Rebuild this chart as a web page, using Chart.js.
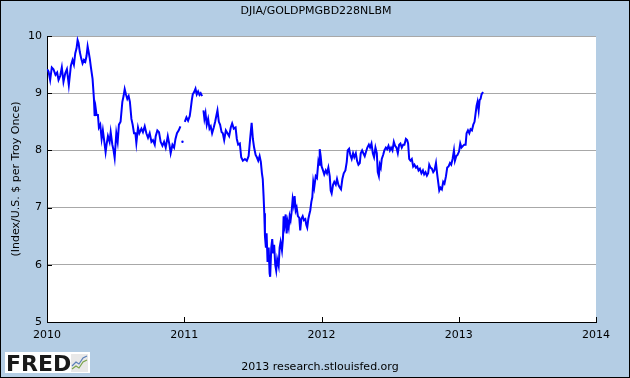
<!DOCTYPE html>
<html>
<head>
<meta charset="utf-8">
<script src="https://cdn.jsdelivr.net/npm/chart.js@4/dist/chart.umd.min.js"></script>
<style>
  html, body { margin: 0; padding: 0; background: #b4cde4; }
  #wrap { width: 630px; height: 378px; }
</style>
</head>
<body>
<div id="wrap"><canvas id="chart" width="630" height="378"></canvas></div>
<script>
const chartTitle = 'DJIA/GOLDPMGBD228NLBM';
const yAxisTitle = '(Index/U.S. $ per Troy Once)';
const footerText = '2013 research.stlouisfed.org';
const yearTicks = [2010, 2011, 2012, 2013, 2014];
const valueTicks = [5, 6, 7, 8, 9, 10];

// observation dates as decimal years
const obsYears = [
  2010.001, 2010.011, 2010.023, 2010.035, 2010.047, 2010.062, 2010.074, 2010.084, 2010.096, 2010.108,
  2010.120, 2010.133, 2010.145, 2010.159, 2010.174, 2010.186, 2010.196, 2010.206, 2010.215, 2010.223,
  2010.230, 2010.239, 2010.250, 2010.259, 2010.269, 2010.279, 2010.288, 2010.296, 2010.305, 2010.312,
  2010.320, 2010.332, 2010.342, 2010.347, 2010.354, 2010.361, 2010.371, 2010.378, 2010.388, 2010.398,
  2010.407, 2010.415, 2010.427, 2010.434, 2010.444, 2010.456, 2010.464, 2010.476, 2010.485, 2010.493,
  2010.505, 2010.515, 2010.524, 2010.536, 2010.549, 2010.558, 2010.566, 2010.575, 2010.585, 2010.595,
  2010.604, 2010.615, 2010.624, 2010.634, 2010.644, 2010.651, 2010.663, 2010.673, 2010.688, 2010.699,
  2010.712, 2010.724, 2010.736, 2010.748, 2010.761, 2010.772, 2010.785, 2010.792, 2010.804, 2010.816,
  2010.828, 2010.841, 2010.853, 2010.865, 2010.880, 2010.892, 2010.901, 2010.914, 2010.926, 2010.936,
  2010.947, 2010.960, 2010.972, 2010.980, 2010.987, 2010.995,
  2011.004, 2011.016, 2011.028, 2011.040, 2011.047, 2011.055, 2011.062, 2011.072, 2011.082, 2011.091,
  2011.101, 2011.111, 2011.120, 2011.130, 2011.135,
  2011.140, 2011.147, 2011.155, 2011.164, 2011.174, 2011.184, 2011.193, 2011.203, 2011.215, 2011.225,
  2011.235, 2011.242, 2011.252, 2011.261, 2011.272, 2011.281, 2011.291, 2011.303, 2011.315, 2011.327,
  2011.339, 2011.349, 2011.361, 2011.374, 2011.383, 2011.393, 2011.405, 2011.415, 2011.427, 2011.442,
  2011.456, 2011.469, 2011.480, 2011.491, 2011.500, 2011.509, 2011.520, 2011.529, 2011.539, 2011.549,
  2011.558, 2011.566, 2011.572, 2011.578, 2011.583, 2011.588, 2011.595, 2011.600, 2011.607, 2011.615,
  2011.622, 2011.626, 2011.634, 2011.641, 2011.648, 2011.655, 2011.663, 2011.670, 2011.677, 2011.688,
  2011.695, 2011.702, 2011.712, 2011.719, 2011.724, 2011.731, 2011.739, 2011.746, 2011.753, 2011.761,
  2011.768, 2011.775, 2011.782, 2011.790, 2011.797, 2011.804, 2011.812, 2011.819, 2011.828, 2011.838,
  2011.845, 2011.853, 2011.863, 2011.872, 2011.882, 2011.889, 2011.896, 2011.904, 2011.911, 2011.918,
  2011.926, 2011.933, 2011.940, 2011.947, 2011.958, 2011.967, 2011.977, 2011.982, 2011.987, 2011.994,
  2012.001, 2012.011, 2012.020, 2012.031, 2012.040, 2012.050, 2012.060, 2012.067, 2012.074, 2012.084,
  2012.093, 2012.104, 2012.113, 2012.123, 2012.133, 2012.142, 2012.152, 2012.162, 2012.174, 2012.184,
  2012.191, 2012.201, 2012.210, 2012.220, 2012.230, 2012.239, 2012.250, 2012.259, 2012.269, 2012.279,
  2012.286, 2012.296, 2012.305, 2012.315, 2012.325, 2012.334, 2012.345, 2012.354, 2012.364, 2012.374,
  2012.383, 2012.393, 2012.403, 2012.410, 2012.418, 2012.425, 2012.432, 2012.439, 2012.449, 2012.458,
  2012.469, 2012.478, 2012.488, 2012.498, 2012.507, 2012.517, 2012.527, 2012.536, 2012.546, 2012.556,
  2012.566, 2012.575, 2012.585, 2012.595, 2012.604, 2012.615, 2012.624, 2012.631, 2012.639, 2012.648,
  2012.658, 2012.668, 2012.677, 2012.688, 2012.697, 2012.707, 2012.717, 2012.728, 2012.739, 2012.748,
  2012.758, 2012.768, 2012.777, 2012.785, 2012.794, 2012.804, 2012.814, 2012.823, 2012.834, 2012.843,
  2012.850, 2012.858, 2012.867, 2012.877, 2012.887, 2012.896, 2012.907, 2012.916, 2012.926, 2012.936,
  2012.945, 2012.955, 2012.965, 2012.972, 2012.982, 2012.991,
  2013.002, 2013.011, 2013.020, 2013.031, 2013.040, 2013.050, 2013.057, 2013.067, 2013.077, 2013.086,
  2013.096, 2013.106, 2013.115, 2013.123, 2013.130, 2013.137, 2013.145, 2013.152, 2013.159, 2013.166,
  2013.177
];

const djiaGold = [
  9.42, 9.38, 9.23, 9.45, 9.42, 9.32, 9.36, 9.23, 9.30, 9.45,
  9.20, 9.35, 9.42, 9.14, 9.48, 9.58, 9.50, 9.70, 9.78, 9.93,
  9.88, 9.72, 9.60, 9.52, 9.58, 9.55, 9.65, 9.82, 9.70, 9.60,
  9.45, 9.25, 8.90, 8.60, 8.75, 8.62, 8.62, 8.40, 8.45, 8.20,
  8.35, 8.20, 7.97, 8.10, 8.25, 8.15, 8.32, 8.10, 8.00, 7.87,
  8.30, 8.15, 8.45, 8.50, 8.85, 8.95, 9.07, 8.98, 8.90, 8.95,
  8.85, 8.55, 8.45, 8.30, 8.30, 8.13, 8.40, 8.30, 8.38, 8.32,
  8.42, 8.30, 8.22, 8.30, 8.15, 8.18, 8.10, 8.25, 8.35, 8.32,
  8.15, 8.08, 8.15, 8.05, 8.25, 8.10, 7.95, 8.10, 8.05, 8.20,
  8.30, 8.35, 8.42, null, 8.15, null,
  8.50, 8.58, 8.52, 8.60, 8.72, 8.88, 8.98, 9.02, 9.08, 8.98,
  9.03, 8.97, 9.00, 8.95, null,
  8.70, 8.55, 8.65, 8.45, 8.55, 8.38, 8.42, 8.30, 8.40, 8.50,
  8.62, 8.70, 8.50, 8.45, 8.32, 8.30, 8.18, 8.35, 8.30, 8.25,
  8.40, 8.47, 8.38, 8.40, 8.20, 8.10, 8.12, 7.88, 7.82, 7.85,
  7.82, 7.90, 8.20, 8.48, 8.20, 8.05, 7.92, 7.88, 7.82, 7.90,
  7.80, 7.60, 7.50, 7.20, 6.90, 6.50, 6.30, 6.55, 6.05, 6.30,
  5.85, 5.79, 6.30, 6.45, 6.20, 6.35, 6.00, 5.90, 6.10, 5.98,
  6.30, 6.40, 6.25, 6.45, 6.85, 6.70, 6.88, 6.55, 6.75, 6.65,
  6.85, 6.78, 6.92, 7.15, 7.05, 7.20, 6.95, 7.00, 6.85, 6.82,
  6.60, 6.80, 6.85, 6.78, 6.80, 6.70, 6.65, 6.80, 6.88, 6.95,
  7.10, 7.18, 7.45, 7.35, 7.55, 7.52, 7.80, 7.75, 8.02, 7.90,
  7.72, 7.65, 7.58, 7.65, 7.60, 7.70, 7.55, 7.30, 7.25, 7.40,
  7.45, 7.40, 7.50, 7.40, 7.35, 7.32, 7.50, 7.60, 7.65, 7.80,
  8.00, 8.03, 7.92, 7.85, 7.95, 7.88, 7.95, 7.82, 7.75, 7.78,
  7.95, 8.00, 7.95, 7.90, 7.98, 8.05, 8.10, 8.05, 8.12, 7.95,
  7.88, 8.05, 7.95, 7.62, 7.55, 7.75, 7.70, 7.85, 7.92, 8.00,
  8.05, 8.02, 8.08, 8.00, 8.05, 8.00, 8.15, 8.08, 8.05, 7.95,
  8.10, 8.12, 8.05, 8.10, 8.10, 8.20, 8.18, 8.12, 7.85, 7.82,
  7.85, 7.72, 7.75, 7.70, 7.72, 7.65, 7.68, 7.60, 7.65, 7.58,
  7.62, 7.56, 7.60, 7.75, 7.70, 7.68, 7.62, 7.65, 7.78, 7.58,
  7.45, 7.30, 7.35, 7.32, 7.45, 7.42, 7.55, 7.70, 7.72, 7.78,
  7.75, 7.85, 8.00, 7.82, 7.90, 7.92,
  7.98, 8.12, 8.05, 8.08, 8.10, 8.10, 8.30, 8.35, 8.30, 8.37,
  8.35, 8.45, 8.50, 8.65, 8.78, 8.85, 8.70, 8.88, 8.90, 8.98,
  9.02
];

const FONT = 'DejaVu Sans';
const PLOT_TOP = 36;
const PLOT_RIGHT = 596;
const Y_AXIS_W = 47;
const X_AXIS_H = 56;

const fredFrame = {
  id: 'fredFrame',
  beforeDraw(chart) {
    const ctx = chart.ctx;
    const a = chart.chartArea;
    ctx.save();
    ctx.fillStyle = '#b4cde4';
    ctx.fillRect(0, 0, chart.width, chart.height);
    ctx.fillStyle = '#ffffff';
    ctx.fillRect(a.left, a.top, a.right - a.left, a.bottom - a.top);
    ctx.strokeStyle = '#000';
    ctx.lineWidth = 1;
    ctx.strokeRect(0.5, 0.5, chart.width - 1, chart.height - 1);

    ctx.fillStyle = '#000';
    ctx.font = '11px ' + FONT;
    ctx.textAlign = 'center';
    ctx.textBaseline = 'middle';
    ctx.fillText(chartTitle, 316, 11);
    ctx.restore();
  },
  afterDraw(chart) {
    const ctx = chart.ctx;
    const a = chart.chartArea;
    const xs = chart.scales.x;
    const ys = chart.scales.y;
    ctx.save();
    // inward tick marks
    ctx.strokeStyle = '#000';
    ctx.lineWidth = 1;
    ctx.beginPath();
    valueTicks.forEach(v => {
      const y = Math.round(ys.getPixelForValue(v)) + 0.5;
      ctx.moveTo(a.left, y);
      ctx.lineTo(a.left + 5, y);
    });
    yearTicks.forEach(t => {
      const x = Math.round(xs.getPixelForValue(t)) + 0.5;
      ctx.moveTo(x, a.bottom);
      ctx.lineTo(x, a.bottom - 5);
    });
    ctx.stroke();

    // footer
    ctx.fillStyle = '#000';
    ctx.font = '11px ' + FONT;
    ctx.textAlign = 'center';
    ctx.textBaseline = 'middle';
    ctx.fillText(footerText, 320, 367);

    // FRED logo
    ctx.fillStyle = '#fff';
    ctx.fillRect(5, 352, 85, 21);
    ctx.fillStyle = '#1a1a1a';
    ctx.font = 'bold 22px ' + FONT;
    ctx.textAlign = 'left';
    ctx.textBaseline = 'alphabetic';
    ctx.fillText('FRED', 6, 371);
    ctx.fillStyle = '#e8e8e8';
    ctx.fillRect(71, 354, 17, 18);
    ctx.lineWidth = 1.2;
    ctx.strokeStyle = '#7aa34a';
    ctx.beginPath();
    ctx.moveTo(72, 369); ctx.lineTo(76, 366); ctx.lineTo(79, 368); ctx.lineTo(83, 362); ctx.lineTo(87, 360);
    ctx.stroke();
    ctx.strokeStyle = '#5b7fb8';
    ctx.beginPath();
    ctx.moveTo(72, 366); ctx.lineTo(76, 362); ctx.lineTo(79, 364); ctx.lineTo(83, 358); ctx.lineTo(87, 356);
    ctx.stroke();
    ctx.restore();
  }
};

const points = obsYears.map((t, i) => ({ x: t, y: djiaGold[i] }));

function isIsolated(i) {
  return djiaGold[i] != null && djiaGold[i - 1] == null && djiaGold[i + 1] == null;
}

new Chart(document.getElementById('chart'), {
  type: 'line',
  data: {
    datasets: [{
      data: points,
      borderColor: '#0000ff',
      backgroundColor: '#0000ff',
      borderWidth: 2,
      tension: 0,
      spanGaps: false,
      pointRadius: ctx => isIsolated(ctx.dataIndex) ? 1.2 : 0,
      pointBorderWidth: 0
    }]
  },
  options: {
    responsive: false,
    animation: false,
    layout: { padding: { top: PLOT_TOP, right: 630 - PLOT_RIGHT, left: 0, bottom: 0 } },
    plugins: {
      legend: { display: false },
      tooltip: { enabled: false }
    },
    scales: {
      x: {
        type: 'linear',
        min: yearTicks[0],
        max: yearTicks[yearTicks.length - 1],
        afterFit: scale => { scale.height = X_AXIS_H; },
        afterBuildTicks: scale => { scale.ticks = yearTicks.map(v => ({ value: v })); },
        ticks: {
          callback: v => String(v),
          color: '#000',
          font: { family: FONT, size: 11 },
          padding: 7,
          maxRotation: 0
        },
        grid: { display: false, drawTicks: false },
        border: { display: true, color: '#000', width: 1 }
      },
      y: {
        min: valueTicks[0],
        max: valueTicks[valueTicks.length - 1],
        afterFit: scale => { scale.width = Y_AXIS_W; },
        afterBuildTicks: scale => { scale.ticks = valueTicks.map(v => ({ value: v })); },
        ticks: {
          callback: v => String(v),
          color: '#000',
          font: { family: FONT, size: 11 },
          padding: 5
        },
        grid: {
          drawTicks: false,
          color: ctx => ctx.tick && ctx.tick.value === valueTicks[0] ? 'rgba(0,0,0,0)' : '#a8a8a8',
          lineWidth: 1
        },
        border: { display: true, color: '#000', width: 1 },
        title: {
          display: true,
          text: yAxisTitle,
          color: '#000',
          font: { family: FONT, size: 11 },
          padding: { top: 10, bottom: 0 }
        }
      }
    }
  },
  plugins: [fredFrame]
});
</script>
</body>
</html>
